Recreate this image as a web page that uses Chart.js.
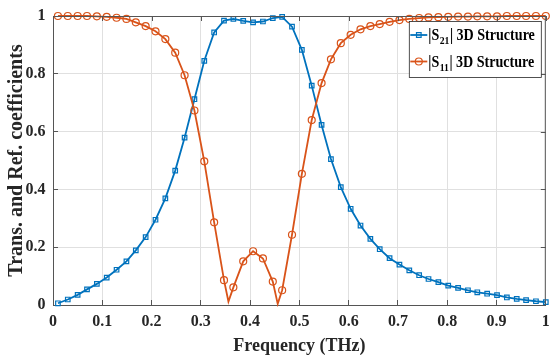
<!DOCTYPE html>
<html>
<head>
<meta charset="utf-8">
<script src="https://cdn.jsdelivr.net/npm/chart.js@4/dist/chart.umd.min.js"></script>
<style>
  html, body { margin: 0; padding: 0; background: #ffffff; }
  #wrap { position: relative; width: 551px; height: 357px; }
</style>
</head>
<body>
<div id="wrap"><canvas id="c" width="551" height="357"></canvas></div>
<script>
// ---- data ----
const freq = [0.010,0.030,0.050,0.069,0.089,0.109,0.129,0.149,0.168,0.188,0.208,0.228,0.248,0.267,0.287,0.307,0.327,0.347,0.366,0.386,0.406,0.426,0.446,0.465,0.485,0.505,0.525,0.545,0.564,0.584,0.604,0.624,0.644,0.663,0.683,0.703,0.723,0.743,0.762,0.782,0.802,0.822,0.842,0.861,0.881,0.901,0.921,0.941,0.960,0.980,1.000];
const s21 = [0.006,0.019,0.035,0.054,0.073,0.095,0.122,0.151,0.189,0.235,0.295,0.369,0.465,0.579,0.712,0.845,0.943,0.984,0.990,0.983,0.978,0.981,0.993,0.997,0.963,0.883,0.759,0.623,0.505,0.408,0.333,0.275,0.229,0.193,0.162,0.140,0.120,0.103,0.090,0.079,0.067,0.059,0.051,0.044,0.039,0.034,0.026,0.021,0.017,0.013,0.010];
const s11 = [1.000,1.000,1.000,1.000,0.999,0.997,0.994,0.990,0.978,0.965,0.947,0.920,0.873,0.795,0.673,0.497,0.286,0.086,0.061,0.151,0.186,0.161,0.081,0.051,0.243,0.454,0.640,0.768,0.850,0.906,0.935,0.954,0.965,0.972,0.980,0.986,0.990,0.993,0.995,0.996,0.997,0.998,0.998,0.999,0.999,0.999,1.000,1.000,1.000,1.000,1.000];
// sharp minima of the |S11| curve (line only, no marker)
const s11DipFreq = [0.356, 0.456];
const s11DipVal  = [0.012, 0.004];
const xTicks = [0,0.1,0.2,0.3,0.4,0.5,0.6,0.7,0.8,0.9,1];
const xTickLabels = ['0','0.1','0.2','0.3','0.4','0.5','0.6','0.7','0.8','0.9','1'];
const yTicks = [0,0.2,0.4,0.6,0.8,1];
const yTickLabels = ['0','0.2','0.4','0.6','0.8','1'];
const seriesNames = [['|S','21','| 3D Structure'], ['|S','11','| 3D Structure']];

const BLUE = '#0072BD', ORANGE = '#D95319';
const FONT = "'Liberation Serif', 'Times New Roman', serif";

// build point tables
const s21Points = freq.map((f, i) => ({x: f, y: s21[i], m: 1}));
const s11Points = freq.map((f, i) => ({x: f, y: s11[i], m: 1}))
  .concat(s11DipFreq.map((f, i) => ({x: f, y: s11DipVal[i], m: 0})))
  .sort((a, b) => a.x - b.x);

function condensedText(ctx, t, x, y, sx) {
  ctx.save();
  ctx.translate(x, y);
  ctx.scale(sx, 1);
  ctx.fillText(t, 0, 0);
  ctx.restore();
  return x + ctx.measureText(t).width * sx;
}

const frameAndLegend = {
  id: 'frameAndLegend',
  afterDatasetsDraw(chart) {
    const ctx = chart.ctx, a = chart.chartArea;
    const xs = chart.scales.x, ys = chart.scales.y;
    ctx.save();
    // top and right frame lines with inward ticks
    ctx.strokeStyle = '#555555';
    ctx.lineWidth = 1;
    ctx.beginPath();
    ctx.moveTo(a.left, a.top + 0.5); ctx.lineTo(a.right, a.top + 0.5);
    ctx.moveTo(a.right - 0.5, a.top); ctx.lineTo(a.right - 0.5, a.bottom);
    xTicks.forEach(v => { const px = Math.round(xs.getPixelForValue(v)) + 0.5; ctx.moveTo(px, a.top); ctx.lineTo(px, a.top + 5); });
    yTicks.forEach(v => { const py = Math.round(ys.getPixelForValue(v)) + 0.5; ctx.moveTo(a.right, py); ctx.lineTo(a.right - 5, py); });
    ctx.stroke();

    // legend box
    const bw = 132, bh = 56;
    const bx = a.right - bw - 4.5, by = a.top + 5.5;
    ctx.fillStyle = '#ffffff';
    ctx.fillRect(bx, by, bw, bh);
    ctx.strokeStyle = '#262626';
    ctx.lineWidth = 0.8;
    ctx.strokeRect(bx, by, bw, bh);

    const rows = [{c: BLUE, shape: 'rect', ly: by + 13.5, base: by + 18.5},
                  {c: ORANGE, shape: 'circle', ly: by + 40, base: by + 45}];
    rows.forEach((r, k) => {
      ctx.strokeStyle = r.c;
      ctx.lineWidth = 1.8;
      ctx.beginPath(); ctx.moveTo(bx + 1, r.ly); ctx.lineTo(bx + 18, r.ly); ctx.stroke();
      ctx.lineWidth = 1.2;
      ctx.beginPath();
      if (r.shape === 'rect') ctx.rect(bx + 9.5 - 2.3, r.ly - 2.3, 4.6, 4.6);
      else ctx.arc(bx + 9.5, r.ly, 3.5, 0, Math.PI * 2);
      ctx.stroke();
      ctx.fillStyle = '#000000';
      ctx.textBaseline = 'alphabetic';
      ctx.textAlign = 'left';
      const p = seriesNames[k];
      ctx.font = 'bold 16px ' + FONT;
      let x = condensedText(ctx, p[0], bx + 19, r.base, 0.88);
      ctx.font = 'bold 11px ' + FONT;
      x = condensedText(ctx, p[1], x + 0.5, r.base + 4, 0.88);
      ctx.font = 'bold 16px ' + FONT;
      condensedText(ctx, p[2], x + 0.5, r.base, 0.88);
    });
    ctx.restore();
  }
};

new Chart(document.getElementById('c'), {
  type: 'line',
  data: {
    datasets: [
      {
        label: '|S21| 3D Structure',
        data: s21Points,
        borderColor: BLUE,
        backgroundColor: 'rgba(0,0,0,0)',
        borderWidth: 1.8,
        pointStyle: 'rect',
        pointRadius: 3.2,
        pointBorderWidth: 1.2,
        pointBorderColor: BLUE,
        pointBackgroundColor: 'rgba(0,0,0,0)',
        tension: 0,
        clip: false,
        order: 1
      },
      {
        label: '|S11| 3D Structure',
        data: s11Points,
        borderColor: ORANGE,
        backgroundColor: 'rgba(0,0,0,0)',
        borderWidth: 1.8,
        pointStyle: 'circle',
        pointRadius: ctx => (ctx.raw && ctx.raw.m ? 3.5 : 0),
        pointBorderWidth: 1.2,
        pointBorderColor: ORANGE,
        pointBackgroundColor: 'rgba(0,0,0,0)',
        tension: 0,
        clip: false,
        order: 0
      }
    ]
  },
  options: {
    responsive: false,
    animation: false,
    events: [],
    layout: { padding: { top: 16, right: 2.5, left: 0, bottom: 0 } },
    plugins: { legend: { display: false }, tooltip: { enabled: false } },
    scales: {
      x: {
        type: 'linear',
        min: 0, max: 1,
        afterBuildTicks: s => { s.ticks = xTicks.map(v => ({value: v})); },
        afterFit: s => { s.height = 52; s.paddingLeft = 0; s.paddingRight = 0; },
        ticks: {
          autoSkip: false, maxRotation: 0,
          callback: (v, i) => xTickLabels[i],
          color: '#262626',
          font: { family: FONT, size: 16, weight: 'bold' },
          padding: 12
        },
        grid: { color: '#e0e0e0', lineWidth: 1, tickColor: '#555555', tickLength: -5, drawTicks: true },
        border: { display: true, color: '#555555', width: 1 },
        title: {
          display: true, text: 'Frequency (THz)', color: '#262626',
          font: { family: FONT, size: 18, weight: 'bold' },
          padding: { top: 0, bottom: 0 }
        }
      },
      y: {
        type: 'linear',
        min: 0, max: 1,
        afterBuildTicks: s => { s.ticks = yTicks.map(v => ({value: v})); },
        afterFit: s => { s.width = 53; s.paddingTop = 0; s.paddingBottom = 0; },
        ticks: {
          autoSkip: false,
          callback: (v, i) => yTickLabels[i],
          color: '#262626',
          font: { family: FONT, size: 16, weight: 'bold' },
          padding: 12.5
        },
        grid: { color: '#e0e0e0', lineWidth: 1, tickColor: '#555555', tickLength: -5, drawTicks: true },
        border: { display: true, color: '#555555', width: 1 },
        title: {
          display: true, text: 'Trans. and Ref. coefficients', color: '#262626',
          font: { family: FONT, size: 20, weight: 'bold' },
          padding: { top: 5, bottom: 0 }
        }
      }
    }
  },
  plugins: [frameAndLegend]
});
</script>
</body>
</html>
